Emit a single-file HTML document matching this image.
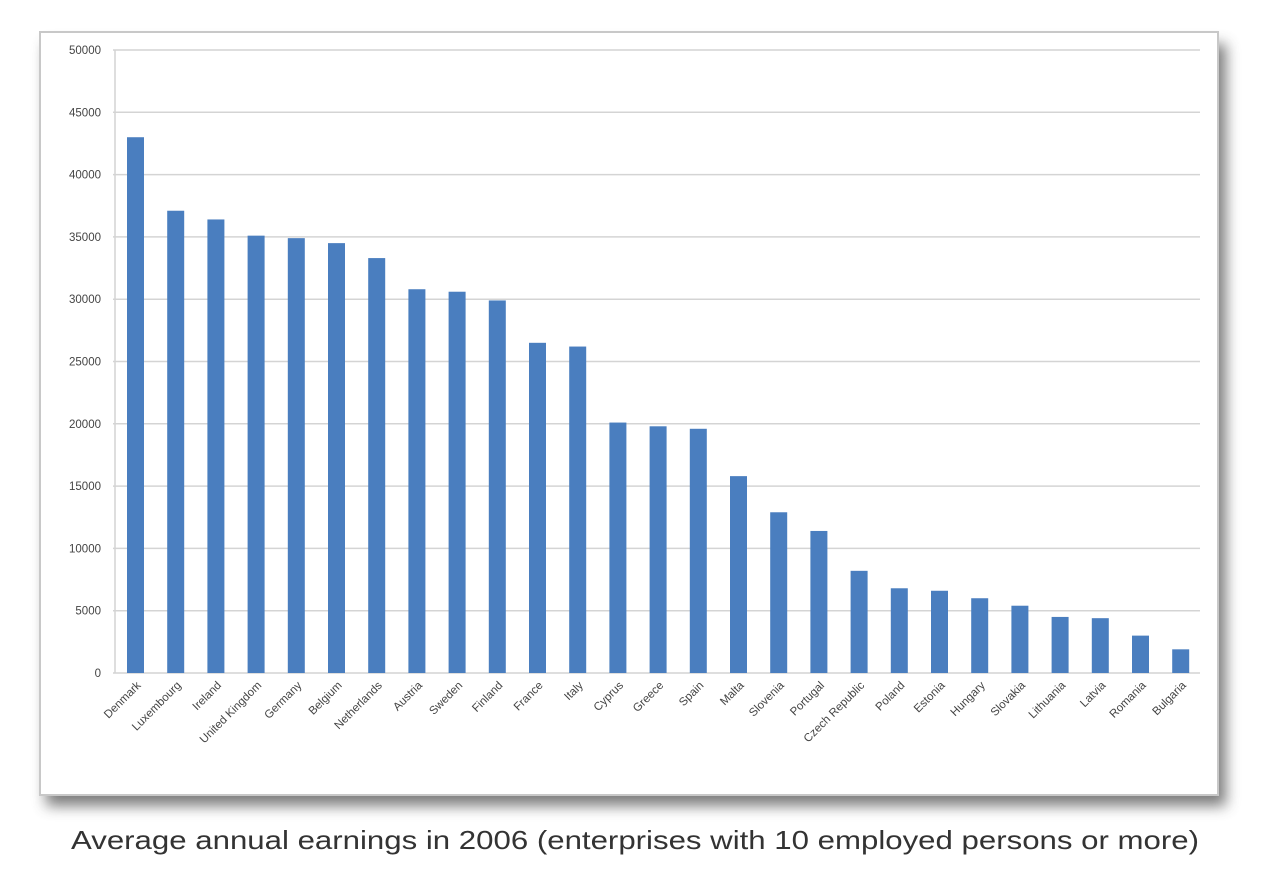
<!DOCTYPE html>
<html><head><style>
body{margin:0;background:#fff;width:1280px;height:891px;overflow:hidden;font-family:"Liberation Sans",sans-serif}
</style></head><body>
<svg width="1280" height="891" viewBox="0 0 1280 891">
<defs><filter id="sh" x="-5%" y="-5%" width="110%" height="115%"><feGaussianBlur stdDeviation="7"/></filter></defs>
<rect x="46" y="44" width="1180" height="762" fill="#666" filter="url(#sh)" opacity="0.85"/>
<rect x="40" y="32" width="1178" height="763" fill="#fff" stroke="#c8c8c8" stroke-width="2"/>
<g id="g" stroke="#d4d4d4" stroke-width="1.5"></g>
<g id="yl" font-size="11.5" fill="#444" text-anchor="end"></g>
<g id="b" fill="#4a7ebf"></g>
<g id="xl" font-size="11.5" fill="#444" text-anchor="end"></g>
<text x="71" y="849" font-size="26" fill="#333" textLength="1128" lengthAdjust="spacingAndGlyphs">Average annual earnings in 2006 (enterprises  with 10 employed persons or more)</text>
</svg>
<script>
var ns="http://www.w3.org/2000/svg";
function el(p,t,a,tx){var e=document.createElementNS(ns,t);for(var k in a)e.setAttribute(k,a[k]);if(tx!=null)e.textContent=tx;document.getElementById(p).appendChild(e);}
var y0=673,s=623/50000;
for(var v=0;v<=50000;v+=5000){var y=y0-v*s;el("g","line",{x1:113,x2:1200,y1:y,y2:y});el("yl","text",{x:101,y:y+4},v);}
el("g","line",{x1:115,x2:115,y1:50,y2:673});
var d=[["Denmark",43000],["Luxembourg",37100],["Ireland",36400],["United Kingdom",35100],["Germany",34900],["Belgium",34500],["Netherlands",33300],["Austria",30800],["Sweden",30600],["Finland",29900],["France",26500],["Italy",26200],["Cyprus",20100],["Greece",19800],["Spain",19600],["Malta",15800],["Slovenia",12900],["Portugal",11400],["Czech Republic",8200],["Poland",6800],["Estonia",6600],["Hungary",6000],["Slovakia",5400],["Lithuania",4500],["Latvia",4400],["Romania",3000],["Bulgaria",1900]];
d.forEach(function(r,i){var cx=135.5+i*40.2,h=r[1]*s;el("b","rect",{x:cx-8.5,y:y0-h,width:17,height:h});
el("xl","text",{x:cx+6,y:686,transform:"rotate(-45 "+(cx+6)+" 686)"},r[0]);});
</script>
</body></html>
